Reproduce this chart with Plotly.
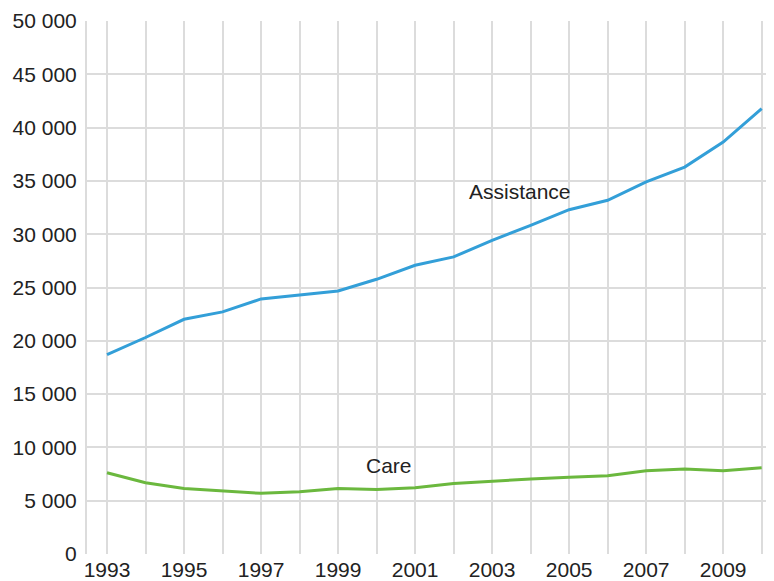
import plotly.graph_objects as go

years = list(range(1993, 2011))
assistance = [18710, 20310, 22020, 22710, 23930, 24270, 24680, 25770, 27090, 27870,
              29430, 30830, 32300, 33180, 34900, 36300, 38640, 41770]
care = [7620, 6680, 6150, 5900, 5690, 5840, 6150, 6060, 6220, 6620,
        6840, 7030, 7190, 7340, 7810, 7970, 7810, 8090]
y_ticks = list(range(0, 50001, 5000))
x_ticktext = [str(y) if (y - 1993) % 2 == 0 else "" for y in years]

blue = "#339fd8"
green = "#6bb83e"

fig = go.Figure()
fig.add_trace(go.Scatter(x=years, y=assistance, mode="lines",
                         line=dict(color=blue, width=3), name="Assistance"))
fig.add_trace(go.Scatter(x=years, y=care, mode="lines",
                         line=dict(color=green, width=3), name="Care"))

fig.add_annotation(x=2003.73, y=34000, text="Assistance", showarrow=False,
                   font=dict(size=21, color="#222"))
fig.add_annotation(x=2000.31, y=8300, text="Care", showarrow=False,
                   font=dict(size=21, color="#222"))

# page body has an 8px margin, so figure is shrunk/shifted to compensate
fig.update_layout(
    width=766, height=573,
    margin=dict(l=79, r=0, t=13, b=27, autoexpand=False),
    paper_bgcolor="white", plot_bgcolor="white",
    showlegend=False,
    separators=". ",
    font=dict(family="Liberation Sans, Arial, sans-serif", size=21, color="#222"),
    xaxis=dict(range=[1992.48, 2010.32], tickvals=years, ticktext=x_ticktext,
               showgrid=True, gridcolor="#dcdcdc", gridwidth=2,
               zeroline=False, showline=False, ticks="", ticklen=0,
               ticklabelstandoff=1, tickfont=dict(size=21)),
    yaxis=dict(range=[0, 50000], tickvals=y_ticks, tickformat=",d",
               showgrid=True, gridcolor="#dcdcdc", gridwidth=2,
               zeroline=False, showline=True, linecolor="#dcdcdc", linewidth=2,
               ticks="", ticklen=0, ticklabelstandoff=4, tickfont=dict(size=21)),
)
fig.write_html("out.html")
